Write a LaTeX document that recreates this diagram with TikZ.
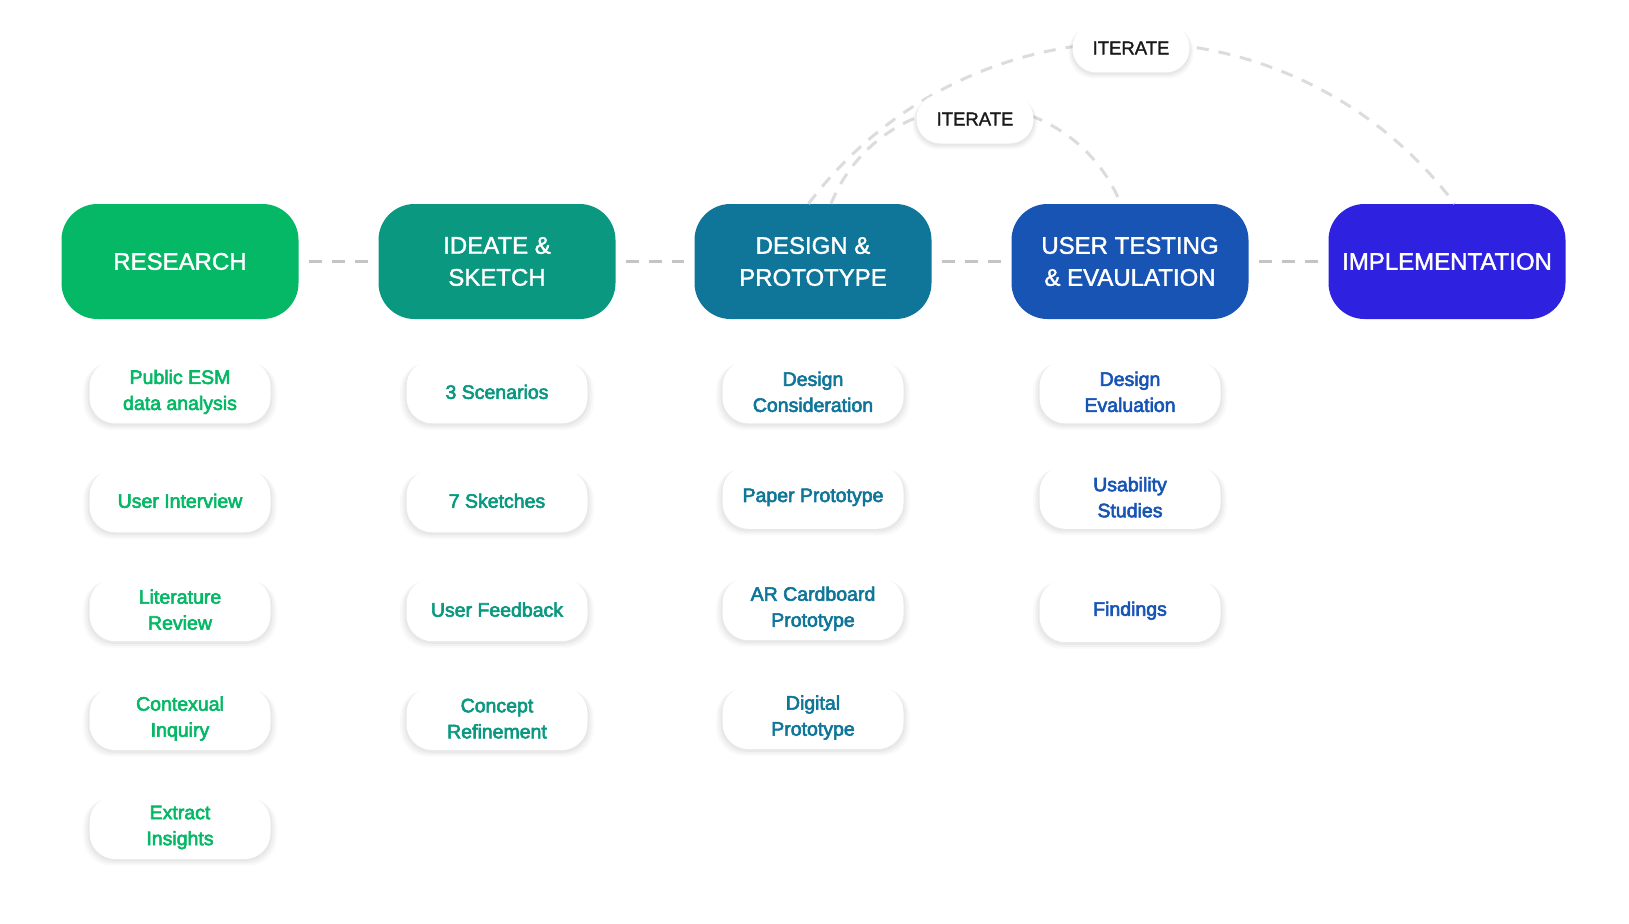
\documentclass[tikz,border=0pt]{standalone}
\usepackage{fontspec}
\setmainfont{Liberation Sans}
\newfontfamily\stagefont{Liberation Sans}[FakeBold=1.5]
\newfontfamily\itemfont{Liberation Sans}[FakeBold=3]
\usepackage{tikz}
\usetikzlibrary{positioning,shadows}
\definecolor{research}{HTML}{04B865}
\definecolor{ideate}{HTML}{0A9880}
\definecolor{design}{HTML}{0F7699}
\definecolor{usertest}{HTML}{1754B4}
\definecolor{implement}{HTML}{2E22E0}
\definecolor{dashgray}{HTML}{C4C4C4}
\definecolor{loopgray}{HTML}{DCDCDC}

\begin{document}
\begin{tikzpicture}[
        x=1pt, y=1pt,
        softshadow/.style={
            general shadow={fill=black, opacity=0.025, shadow scale=1.07, shadow yshift=-4pt},
            general shadow={fill=black, opacity=0.03, shadow scale=1.045, shadow yshift=-3pt},
            general shadow={fill=black, opacity=0.035, shadow scale=1.02, shadow yshift=-2pt}
        },
        stage/.style={
            rectangle,
            rounded corners=36pt,
            minimum width=237pt,
            minimum height=115pt,
            text=white,
            align=center,
            font=\stagefont\fontsize{24}{32}\selectfont
        },
        task/.style={
            rectangle,
            fill=white,
            rounded corners=26pt,
            minimum width=181pt,
            minimum height=63pt,
            align=center,
            font=\itemfont\fontsize{19.5}{26}\selectfont,
            softshadow
        },
        iterbox/.style={
            rectangle,
            fill=white,
            rounded corners=24pt,
            minimum width=117pt,
            minimum height=49pt,
            text=black!90,
            font=\stagefont\fontsize{18.5}{22}\selectfont,
            softshadow
        },
        stageline/.style={
            draw=dashgray,
            line width=3.5pt,
            dash pattern=on 13pt off 10pt
        },
        iterline/.style={
            draw=loopgray,
            line width=3pt,
            dash pattern=on 12pt off 10pt
        }
    ]
        \fill[white] (0,0) rectangle (1629,-923);
        \useasboundingbox (0,0) rectangle (1629,-923);

        % Top row: stages
        \node[stage, fill=research] (research) at (180, -261.5) {RESEARCH};
        \node[stage, fill=ideate] (ideate) at (497, -261.5) {IDEATE \&\\SKETCH};
        \node[stage, fill=design] (design) at (813, -261.5) {DESIGN \&\\PROTOTYPE};
        \node[stage, fill=usertest] (usertest) at (1130, -261.5) {USER TESTING\\\& EVAULATION};
        \node[stage, fill=implement] (implement) at (1447, -261.5) {IMPLEMENTATION};

        \draw[stageline] ([xshift=10pt]research.east) -- ([xshift=-10pt]ideate.west);
        \draw[stageline] ([xshift=10pt]ideate.east) -- ([xshift=-10pt]design.west);
        \draw[stageline] ([xshift=10pt]design.east) -- ([xshift=-10pt]usertest.west);
        \draw[stageline] ([xshift=10pt]usertest.east) -- ([xshift=-10pt]implement.west);

        % Iteration loops
        \coordinate (outerstart) at ([xshift=-4.5pt]design.north);
        \coordinate (innerstart) at ([xshift=18pt]design.north);
        \draw[iterline] (outerstart) arc[start angle=143.1, end angle=36.9, radius=404];
        \draw[iterline] (innerstart) arc[start angle=158.2, end angle=21.8, radius=156];
        \node[iterbox] (iterouter) at (1131, -48) {ITERATE};
        \node[iterbox] (iterinner) at (975, -119) {ITERATE};

        % Research column
        \node[task, text=research] (esm) [below=41pt of research] {Public ESM\\data analysis};
        \node[task, text=research] (interview) [below=45.5pt of esm] {User Interview};
        \node[task, text=research] (literature) [below=45.5pt of interview] {Literature\\Review};
        \node[task, text=research] (inquiry) [below=45.5pt of literature] {Contexual\\Inquiry};
        \node[task, text=research] (insights) [below=45.5pt of inquiry] {Extract\\Insights};

        % Ideate column
        \node[task, text=ideate] (scenarios) [below=41pt of ideate] {3 Scenarios};
        \node[task, text=ideate] (sketches) [below=45.5pt of scenarios] {7 Sketches};
        \node[task, text=ideate] (feedback) [below=45.5pt of sketches] {User Feedback};
        \node[task, text=ideate] (refine) [below=45.5pt of feedback] {Concept\\Refinement};

        % Design column
        \node[task, text=design] (consider) [below=41pt of design] {Design\\Consideration};
        \node[task, text=design] (paper) [below=42pt of consider] {Paper Prototype};
        \node[task, text=design] (cardboard) [below=48pt of paper] {AR Cardboard\\Prototype};
        \node[task, text=design] (digital) [below=45.5pt of cardboard] {Digital\\Prototype};

        % User testing column
        \node[task, text=usertest] (evaluate) [below=41pt of usertest] {Design\\Evaluation};
        \node[task, text=usertest] (usability) [below=42pt of evaluate] {Usability\\Studies};
        \node[task, text=usertest] (findings) [below=50pt of usability] {Findings};
    \end{tikzpicture}
\end{document}
